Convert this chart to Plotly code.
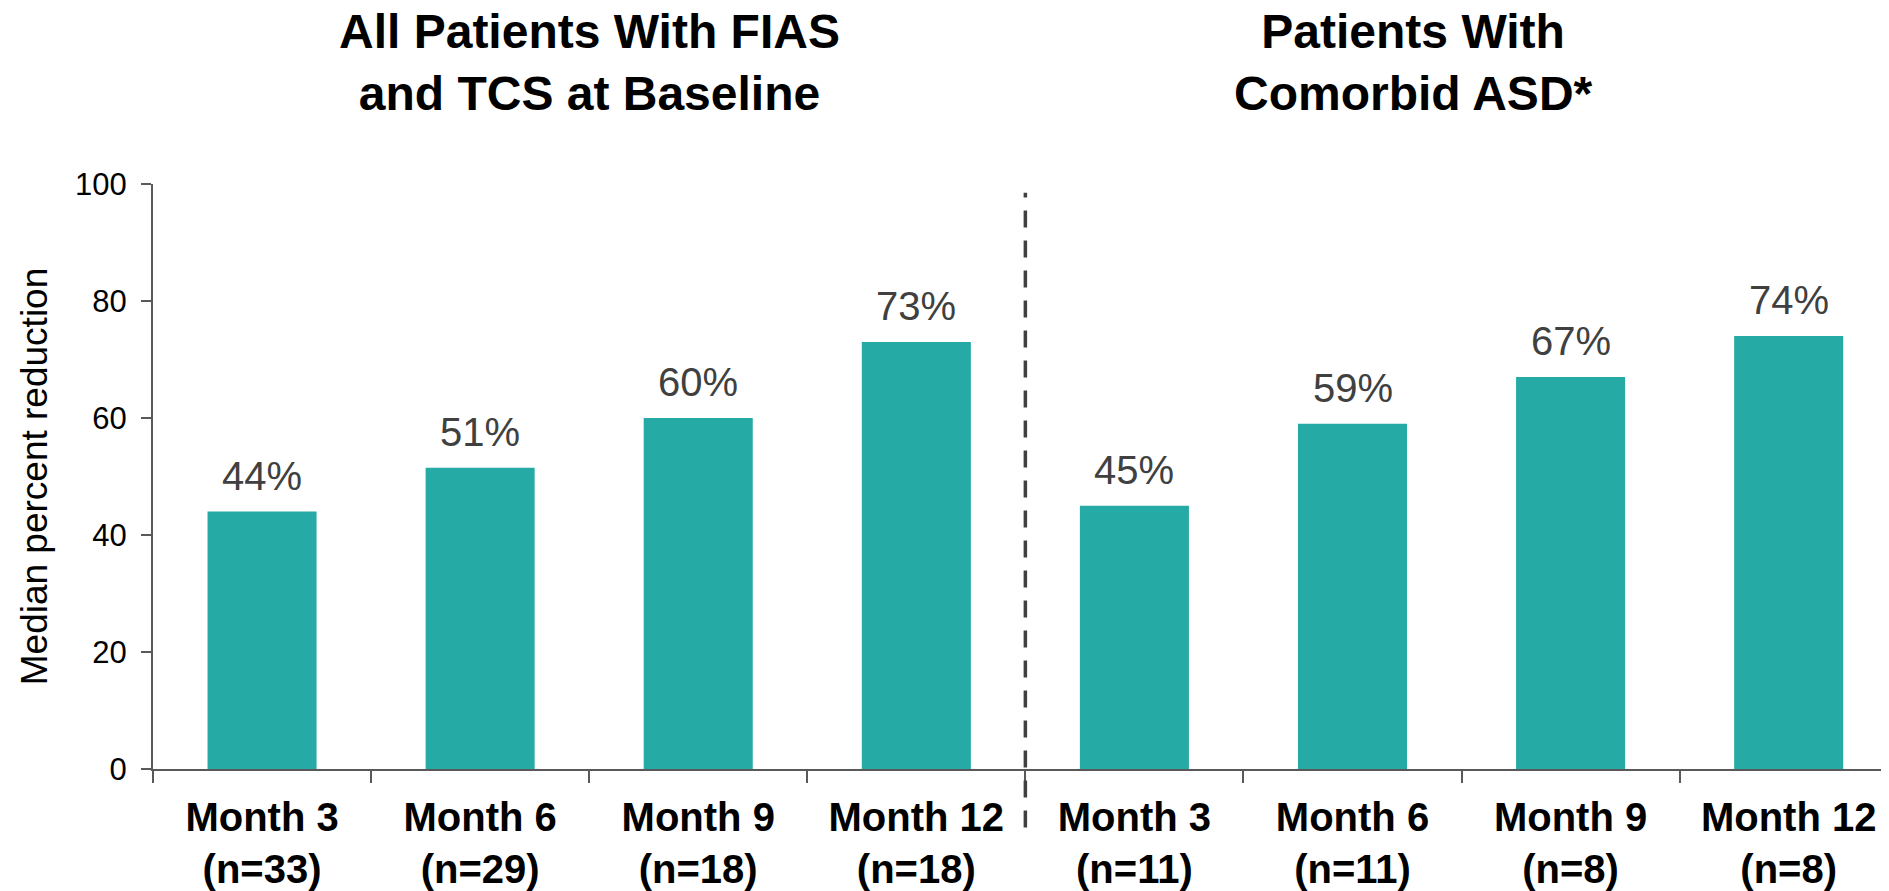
import plotly.graph_objects as go

# categories (month + sample size), two panels of four
categories = [
    "Month 3<br>(n=33)",
    "Month 6<br>(n=29)",
    "Month 9<br>(n=18)",
    "Month 12<br>(n=18)",
    "Month 3<br>(n=11)",
    "Month 6<br>(n=11)",
    "Month 9<br>(n=8)",
    "Month 12<br>(n=8)",
]
median_reduction = [44, 51.5, 60, 73, 45, 59, 67, 74]
value_labels = ["44%", "51%", "60%", "73%", "45%", "59%", "67%", "74%"]

panel_titles = [
    "All Patients With FIAS<br>and TCS at Baseline",
    "Patients With<br>Comorbid ASD*",
]
panel_title_x = [1.5, 5.28]
divider_x = 3.5

BAR_COLOR = "#26AAA6"
AXIS_COLOR = "#595959"
FONT = "Liberation Sans, Arial, sans-serif"

fig = go.Figure()

fig.add_trace(
    go.Bar(
        x=categories,
        y=median_reduction,
        marker=dict(color=BAR_COLOR, line=dict(width=0)),
        width=0.5,
        hoverinfo="skip",
    )
)

# value labels above the bars
for cat, val, lab in zip(categories, median_reduction, value_labels):
    fig.add_annotation(
        x=cat, y=val, xref="x", yref="y",
        text=lab, showarrow=False,
        yanchor="bottom", yshift=12,
        font=dict(family=FONT, size=40, color="#404040"),
    )

# panel headers
for tx, title in zip(panel_title_x, panel_titles):
    fig.add_annotation(
        x=tx, y=1.207, xref="x", yref="paper",
        text=title, showarrow=False,
        xanchor="center", yanchor="middle",
        font=dict(family=FONT, size=48, color="#000000", weight="bold"),
    )

# dashed divider between panels
fig.add_shape(
    type="line", xref="x", yref="paper",
    x0=divider_x, x1=divider_x, y0=-0.1, y1=0.985,
    line=dict(color="#404040", width=3.5, dash="17px,13px"),
)

fig.update_layout(
    width=1881,
    height=883,
    template="plotly_white",
    plot_bgcolor="white",
    paper_bgcolor="white",
    margin=dict(t=176, b=122, l=145, r=0),
    showlegend=False,
    font=dict(family=FONT, color="#000000"),
)

fig.update_xaxes(
    type="category",
    range=[-0.5, 7.46],
    showgrid=False,
    zeroline=False,
    showline=True,
    linecolor=AXIS_COLOR,
    linewidth=2,
    ticks="outside",
    tickson="boundaries",
    ticklen=12,
    tickwidth=2,
    tickcolor=AXIS_COLOR,
    tickfont=dict(family=FONT, size=40, color="#000000", weight="bold"),
    ticklabelstandoff=12,
)

fig.update_yaxes(
    range=[0, 100],
    tickvals=[0, 20, 40, 60, 80, 100],
    showgrid=False,
    zeroline=False,
    showline=True,
    linecolor=AXIS_COLOR,
    linewidth=2,
    ticks="outside",
    ticklen=10,
    tickwidth=2,
    tickcolor=AXIS_COLOR,
    tickfont=dict(family=FONT, size=31, color="#000000"),
    ticklabelstandoff=8,
    title=dict(text="Median percent reduction", font=dict(family=FONT, size=37, color="#000000"), standoff=16),
)

fig.write_html("out.html")
